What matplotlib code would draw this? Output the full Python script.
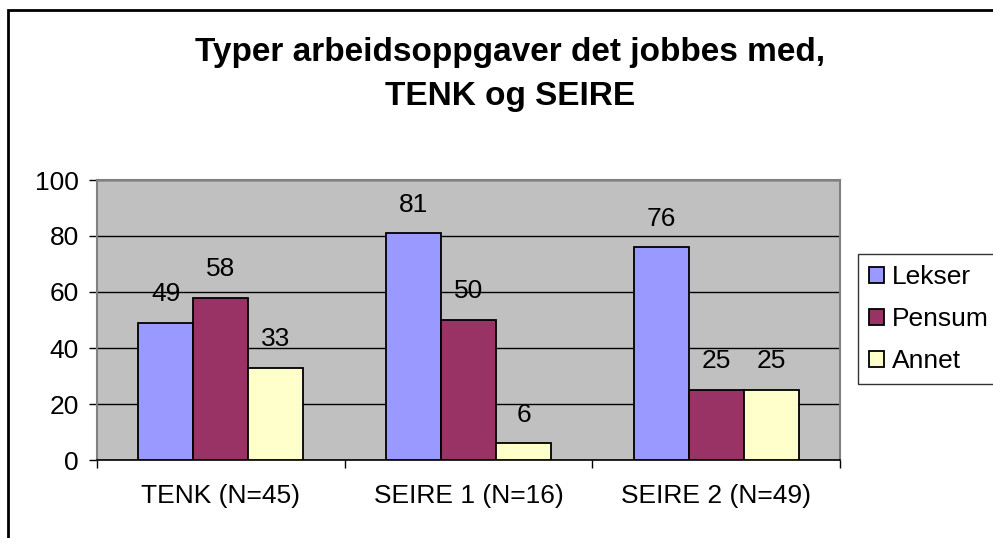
import matplotlib.pyplot as plt
import numpy as np
from matplotlib.patches import Rectangle

plt.rcParams['font.family'] = ['Liberation Sans', 'DejaVu Sans']

groups = ['TENK (N=45)', 'SEIRE 1 (N=16)', 'SEIRE 2 (N=49)']
series = ['Lekser', 'Pensum', 'Annet']
lekser = [49, 81, 76]
pensum = [58, 50, 25]
annet = [33, 6, 25]
colors = ['#9999FF', '#993366', '#FFFFCC']
yticks = [0, 20, 40, 60, 80, 100]

fig = plt.figure(figsize=(9.93, 5.38), dpi=100)
ax = fig.add_axes([97/993, 1-460/538, (840-97)/993, 280/538])
ax.set_facecolor('#C0C0C0')

x = np.arange(len(groups)) + 0.5
w = 0.222
for i, (name, vals, c) in enumerate(zip(series, [lekser, pensum, annet], colors)):
    bars = ax.bar(x + (i - 1) * w, vals, w, color=c, edgecolor='black',
                  linewidth=1.3, label=name, zorder=3)
    for b, v in zip(bars, vals):
        ax.annotate(str(v), (b.get_x() + b.get_width()/2, v), xytext=(0, 12),
                    textcoords='offset points', ha='center', va='bottom',
                    fontsize=19)

ax.set_xlim(0, 3)
ax.set_ylim(0, 100)
ax.set_yticks(yticks)
ax.tick_params(axis='y', labelsize=19, length=6, width=1, pad=7)
ax.set_xticks(x)
ax.set_xticklabels(groups, fontsize=19)
ax.set_xticks([0, 1, 2, 3], minor=True)
ax.tick_params(axis='x', which='major', length=0, pad=17)
ax.tick_params(axis='x', which='minor', length=6, width=1)
ax.yaxis.grid(True, color='black', linewidth=1, zorder=1)
ax.set_axisbelow(True)
for s in ['top', 'right', 'left']:
    ax.spines[s].set_color('#808080')
    ax.spines[s].set_linewidth(1.5)
ax.spines['bottom'].set_color('black')
ax.spines['bottom'].set_linewidth(1.2)

fig.text(0.514, 1-52/538, 'Typer arbeidsoppgaver det jobbes med,',
         ha='center', va='center', fontsize=24, fontweight='bold')
fig.text(0.514, 1-97/538, 'TENK og SEIRE',
         ha='center', va='center', fontsize=24, fontweight='bold')

leg = fig.legend(loc='upper left', bbox_to_anchor=(858/993, 1-254/538),
                 fontsize=19, frameon=True, fancybox=False, edgecolor='black',
                 handlelength=0.55, handleheight=0.55, handletextpad=0.3,
                 labelspacing=0.68, borderpad=0.42, borderaxespad=0)
leg.get_frame().set_linewidth(1)

# outer chart border
fig.patches.append(Rectangle((8/993, -0.2), 1.5, 1.2 - 10/538,
                             transform=fig.transFigure, fill=False,
                             edgecolor='black', linewidth=2))

fig.savefig('out.png', dpi=100)
